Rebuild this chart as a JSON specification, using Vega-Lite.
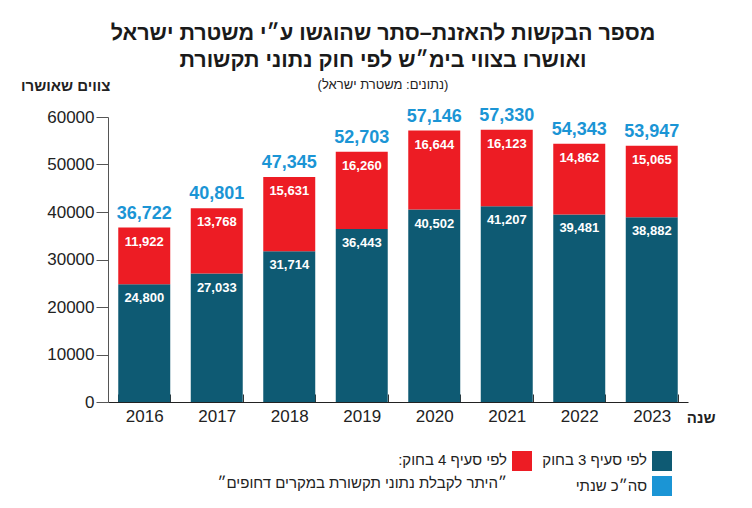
{
  "$schema": "https://vega.github.io/schema/vega-lite/v6.json",
  "width": 580,
  "height": 285,
  "autosize": {"type": "none"},
  "padding": {"left": 108, "top": 117, "right": 64, "bottom": 106},
  "background": "white",
  "config": {"view": {"stroke": null}, "font": "Liberation Sans"},
  "title": {
    "text": ["מספר הבקשות להאזנת–סתר שהוגשו ע״י משטרת ישראל", "ואושרו בצווי בימ״ש לפי חוק נתוני תקשורת"],
    "subtitle": "(נתונים: משטרת ישראל)",
    "anchor": "middle",
    "frame": "group",
    "dx": -15,
    "fontSize": 21.5,
    "fontWeight": "bold",
    "color": "#1a1a1a",
    "lineHeight": 27,
    "subtitleFontSize": 13,
    "subtitleColor": "#222",
    "subtitlePadding": 8,
    "offset": -14
  },
  "datasets": {
    "segments": [
      {"year": "2016", "category": "לפי סעיף 3 בחוק", "value": 24800},
      {"year": "2016", "category": "לפי סעיף 4 בחוק", "value": 11922},
      {"year": "2017", "category": "לפי סעיף 3 בחוק", "value": 27033},
      {"year": "2017", "category": "לפי סעיף 4 בחוק", "value": 13768},
      {"year": "2018", "category": "לפי סעיף 3 בחוק", "value": 31714},
      {"year": "2018", "category": "לפי סעיף 4 בחוק", "value": 15631},
      {"year": "2019", "category": "לפי סעיף 3 בחוק", "value": 36443},
      {"year": "2019", "category": "לפי סעיף 4 בחוק", "value": 16260},
      {"year": "2020", "category": "לפי סעיף 3 בחוק", "value": 40502},
      {"year": "2020", "category": "לפי סעיף 4 בחוק", "value": 16644},
      {"year": "2021", "category": "לפי סעיף 3 בחוק", "value": 41207},
      {"year": "2021", "category": "לפי סעיף 4 בחוק", "value": 16123},
      {"year": "2022", "category": "לפי סעיף 3 בחוק", "value": 39481},
      {"year": "2022", "category": "לפי סעיף 4 בחוק", "value": 14862},
      {"year": "2023", "category": "לפי סעיף 3 בחוק", "value": 38882},
      {"year": "2023", "category": "לפי סעיף 4 בחוק", "value": 15065}
    ],
    "totals": [
      {"year": "2016", "total": 36722},
      {"year": "2017", "total": 40801},
      {"year": "2018", "total": 47345},
      {"year": "2019", "total": 52703},
      {"year": "2020", "total": 57146},
      {"year": "2021", "total": 57330},
      {"year": "2022", "total": 54343},
      {"year": "2023", "total": 53947}
    ]
  },
  "layer": [
    {
      "data": {"name": "segments"},
      "mark": {"type": "bar"},
      "encoding": {
        "x": {
          "field": "year", "type": "ordinal",
          "scale": {"paddingInner": 0.283, "paddingOuter": 0.1415},
          "axis": {
            "title": "שנה", "titleAngle": 0, "titleAlign": "right", "titleBaseline": "middle",
            "titleX": 607, "titleY": 15, "titleFontSize": 15, "titleFontWeight": "bold", "titleColor": "#222",
            "labelAngle": 0, "labelFontSize": 17, "labelColor": "#222", "labelPadding": 14,
            "tickBand": "extent", "tickSize": -8, "tickColor": "#333", "domainColor": "#222", "domainWidth": 1.2
          }
        },
        "y": {
          "field": "value", "type": "quantitative", "stack": "zero",
          "scale": {"domain": [0, 60000]},
          "axis": {
            "title": "צווים שאושרו", "titleAngle": 0, "titleAlign": "right", "titleBaseline": "middle",
            "titleX": 2, "titleY": -32, "titleFontSize": 15, "titleFontWeight": "bold", "titleColor": "#222",
            "values": [0, 10000, 20000, 30000, 40000, 50000, 60000], "format": "d",
            "labelFontSize": 17, "labelColor": "#222", "labelPadding": 2,
            "tickSize": 12, "tickColor": "#555", "domainColor": "#555", "grid": false
          }
        },
        "order": {"field": "category", "sort": "ascending"},
        "color": {
          "field": "category", "type": "nominal",
          "scale": {"domain": ["לפי סעיף 4 בחוק", "לפי סעיף 3 בחוק"], "range": ["#ed1c24", "#0e5a73"]},
          "legend": {
            "orient": "none", "legendX": 404, "legendY": 334, "direction": "horizontal",
            "title": null, "symbolType": "square", "symbolSize": 400, "symbolStrokeWidth": 0,
            "labelOffset": -25, "labelAlign": "right", "labelBaseline": "top",
            "labelFontSize": 15, "labelColor": "#222", "labelLimit": 400, "columnPadding": 10, "padding": 0,
            "labelExpr": "datum.label == 'לפי סעיף 4 בחוק' ? ['לפי סעיף 4 בחוק:\u200f', '״היתר לקבלת נתוני תקשורת במקרים דחופים״'] : [datum.label, ' ']",
            "encode": {"labels": {"update": {"dy": {"value": -8}, "lineHeight": {"value": 23}}}}
          }
        }
      }
    },
    {
      "data": {"name": "segments"},
      "mark": {"type": "text", "color": "white", "fontWeight": "bold", "fontSize": 13, "baseline": "middle", "dy": 14},
      "encoding": {
        "x": {"field": "year", "type": "ordinal"},
        "y": {"field": "value", "type": "quantitative", "stack": "zero"},
        "order": {"field": "category", "sort": "ascending"},
        "detail": {"field": "category"},
        "text": {"field": "value", "type": "quantitative", "format": ","}
      }
    },
    {
      "data": {"name": "totals"},
      "mark": {"type": "text", "fontWeight": "bold", "fontSize": 18, "baseline": "middle", "dy": -14},
      "encoding": {
        "x": {"field": "year", "type": "ordinal"},
        "y": {"field": "total", "type": "quantitative"},
        "text": {"field": "total", "type": "quantitative", "format": ","},
        "fill": {
          "datum": "סה״כ שנתי", "type": "nominal",
          "scale": {"range": ["#1b95d5"]},
          "legend": {
            "orient": "none", "legendX": 544, "legendY": 359, "title": null,
            "symbolType": "square", "symbolSize": 400, "symbolStrokeWidth": 0, "symbolOpacity": 1,
            "labelOffset": -25, "labelAlign": "right", "labelBaseline": "middle",
            "labelFontSize": 15, "labelColor": "#222", "labelLimit": 400, "padding": 0
          }
        }
      }
    }
  ]
}
